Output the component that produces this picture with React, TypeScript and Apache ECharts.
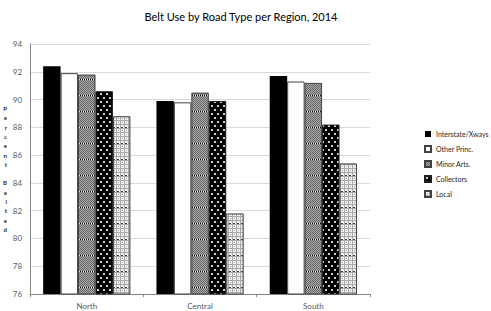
import React, { useEffect, useRef } from "react";
import * as echarts from "echarts";

const categories = ["North", "Central", "South"];
const seriesNames = ["Interstate/Xways", "Other Princ.", "Minor Arts.", "Collectors", "Local"];
const interstate = [92.4, 89.9, 91.7];
const otherPrinc = [91.9, 89.8, 91.3];
const minorArts = [91.8, 90.5, 91.2];
const collectors = [90.6, 89.9, 88.2];
const local = [88.8, 81.8, 85.4];
const yTicks = { min: 76, max: 94, interval: 2 };

function makeTile(w: number, h: number, draw: (ctx: CanvasRenderingContext2D) => void) {
  const c = document.createElement("canvas");
  c.width = w;
  c.height = h;
  const ctx = c.getContext("2d")!;
  draw(ctx);
  return { image: c.toDataURL(), repeat: "repeat", imageWidth: w, imageHeight: h } as any;
}

export default function App() {
  const ref = useRef<HTMLDivElement>(null);
  useEffect(() => {
    if (!ref.current) return;
    const chart = echarts.init(ref.current, undefined, { renderer: "svg" });

    const minorPat = makeTile(16, 16, (ctx) => {
      for (let y = 0; y < 16; y++)
        for (let x = 0; x < 16; x++) {
          ctx.fillStyle = (x + y) % 2 === 0 ? "#666666" : "#aaaaaa";
          ctx.fillRect(x, y, 1, 1);
        }
      for (let x = 0; x < 16; x += 2) {
        ctx.fillStyle = "#000";
        ctx.fillRect(x, 15, 1, 1);
        ctx.fillStyle = "#eee";
        ctx.fillRect(x + 1, 15, 1, 1);
      }
    });
    const collPat = makeTile(6, 8, (ctx) => {
      ctx.fillStyle = "#000";
      ctx.fillRect(0, 0, 6, 8);
      ctx.fillStyle = "#d0d0d0";
      ctx.fillRect(1, 1, 2, 2);
      ctx.fillRect(4, 5, 2, 2);
    });
    const localPat = makeTile(4, 16, (ctx) => {
      ctx.fillStyle = "#f2f2f2";
      ctx.fillRect(0, 0, 4, 16);
      ctx.fillStyle = "#a8a8a8";
      for (let y = 0; y < 16; y += 4) ctx.fillRect(0, y, 4, 1);
      ctx.fillRect(0, 0, 1, 16);
      ctx.fillRect(2, 2, 1, 1);
      ctx.fillRect(2, 6, 1, 1);
      ctx.fillRect(2, 10, 1, 1);
      ctx.fillStyle = "#444";
      ctx.fillRect(1, 15, 2, 1);
    });

    const fills = ["#000000", "#ffffff", minorPat, collPat, localPat];
    const borders = ["#000000", "#404040", "#404040", "#202020", "#404040"];
    const dataArr = [interstate, otherPrinc, minorArts, collectors, local];

    const font = "Lato, 'Open Sans', sans-serif";

    chart.setOption({
      animation: false,
      textStyle: { fontFamily: font },
      title: {
        text: "Belt Use by Road Type per Region, 2014",
        left: 236,
        textAlign: "center",
        top: 6,
        textStyle: { fontSize: 11, fontWeight: "normal", color: "#000", fontFamily: font },
      },
      legend: {
        orient: "vertical",
        left: 419,
        top: 124,
        itemWidth: 6,
        itemHeight: 6,
        itemGap: 5,
        icon: "rect",
        data: seriesNames.map((n) => ({ name: n, textStyle: { color: "#262626" } })),
        textStyle: { fontSize: 7, color: "#262626", lineHeight: 10, fontFamily: font },
      },
      grid: { left: 27, right: 121, top: 44, bottom: 17, containLabel: false },
      xAxis: {
        type: "category",
        data: categories,
        axisLine: { lineStyle: { color: "#868686", width: 1 } },
        axisTick: { show: true, length: 3, lineStyle: { color: "#868686" } },
        axisLabel: { fontSize: 8, color: "#595959", margin: 8, fontFamily: font },
      },
      yAxis: {
        type: "value",
        min: yTicks.min,
        max: yTicks.max,
        interval: yTicks.interval,
        name: "P\ne\nr\nc\ne\nn\nt\n \nB\ne\nl\nt\ne\nd",
        nameLocation: "middle",
        nameRotate: 0,
        nameGap: 19,
        nameTextStyle: { fontSize: 6, fontWeight: "bold", color: "#262626", lineHeight: 9.3, fontFamily: font },
        axisLine: { show: true, lineStyle: { color: "#868686", width: 1 } },
        axisTick: { show: false },
        axisLabel: { fontSize: 8, color: "#595959", margin: 8, fontFamily: font },
        splitLine: { lineStyle: { color: "#d9d9d9", width: 1 } },
      },
      series: seriesNames.map((name, i) => ({
        name,
        type: "bar",
        data: dataArr[i],
        barGap: "0%",
        barCategoryGap: "23%",
        itemStyle: { color: fills[i], borderColor: borders[i], borderWidth: i === 0 ? 0 : 1 },
      })),
    });
    return () => chart.dispose();
  }, []);
  return <div ref={ref} style={{ width: 491, height: 311, position: "absolute", left: 0, top: 0 }} />;
}
